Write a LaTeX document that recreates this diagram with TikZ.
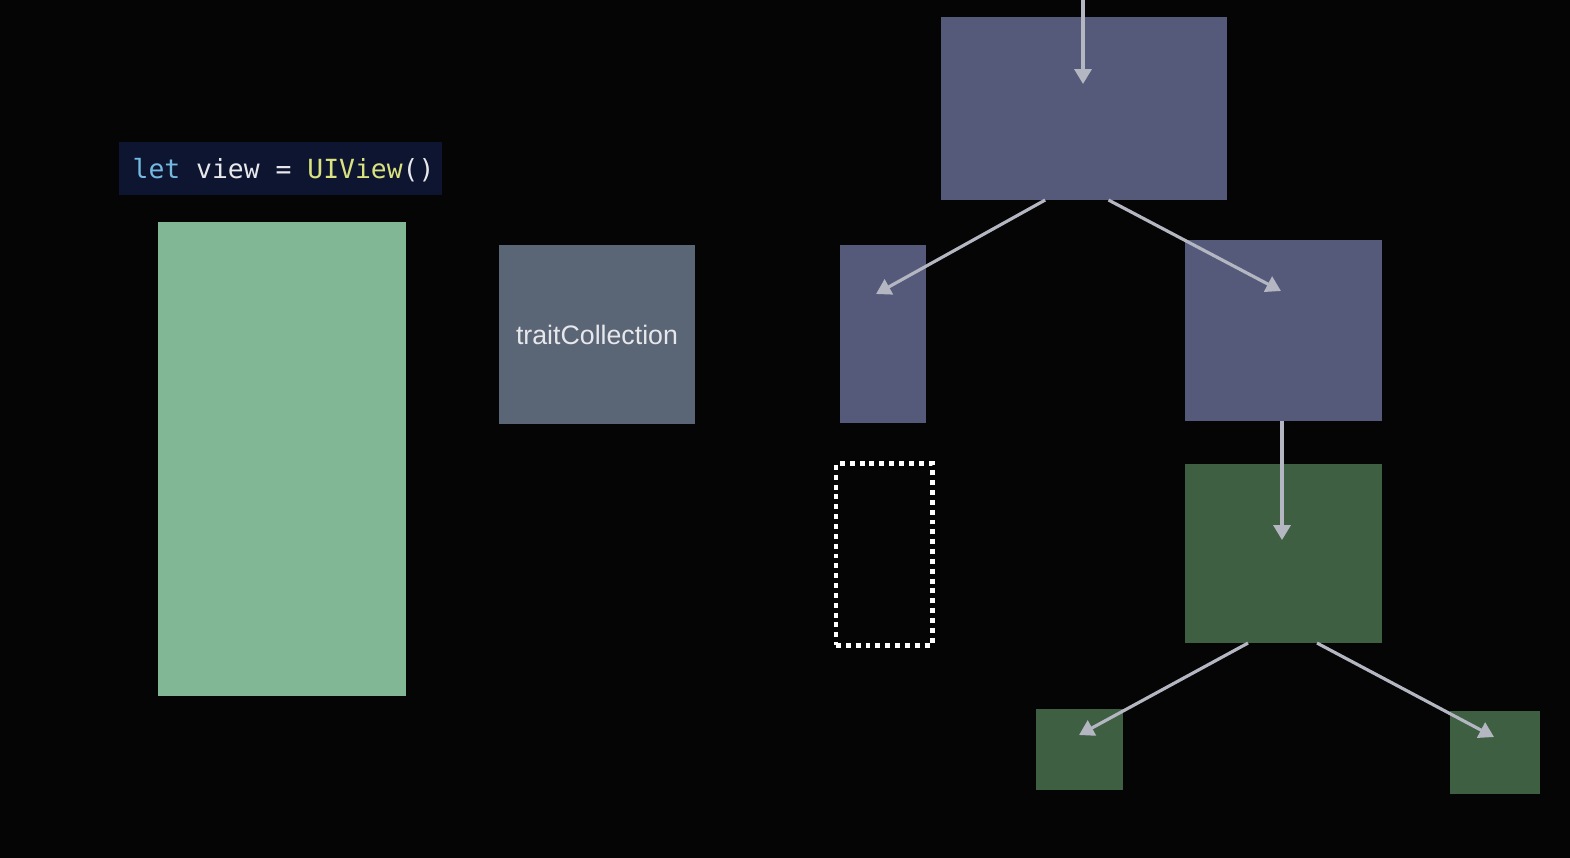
\documentclass[tikz,border=0pt]{standalone}
\usepackage{fontspec}
\setmainfont{Liberation Sans}
\setmonofont{DejaVu Sans Mono}
\usetikzlibrary{arrows.meta,positioning}
\definecolor{stage}{HTML}{050505}
\definecolor{codebg}{HTML}{0D1530}
\definecolor{kwblue}{HTML}{74B9E0}
\definecolor{plain}{HTML}{E8E8EC}
\definecolor{typeyel}{HTML}{D9E27F}
\definecolor{mint}{HTML}{82B796}
\definecolor{slate}{HTML}{5A6576}
\definecolor{lavender}{HTML}{555A7B}
\definecolor{forest}{HTML}{3E5F42}
\definecolor{wire}{HTML}{B4B6C2}
\tikzset{
  block/.style={inner sep=0pt,outer sep=0pt,draw=none},
  viewbox/.style={block,fill=lavender},
  layerbox/.style={block,fill=forest},
  wirearrow/.style={-{Triangle[length=4.2pt,width=4.8pt]},line width=0.9pt,draw=wire,fill=wire},
  ghost/.style={block,draw=white,line width=1.4pt,dash pattern=on 1.4pt off 1.4pt}
}
\begin{document}
\begin{tikzpicture}[x=0.01cm,y=-0.01cm]
  \fill[stage] (0,0) rectangle (1570,858);
  \useasboundingbox (0,0) rectangle (1570,858);

  % code line
  \node[block,fill=codebg,minimum width=3.23cm,minimum height=0.53cm] (code) at (280.5,168.5) {};
  \node[font=\ttfamily\fontsize{7.5}{9}\selectfont,anchor=west,inner sep=0pt] (codetxt) at (132,170)
    {\textcolor{kwblue}{let}\textcolor{plain}{\ view\ =\ }\textcolor{typeyel}{UIView}\textcolor{plain}{()}};

  % the view itself
  \node[block,fill=mint,minimum width=2.48cm,minimum height=4.74cm] (view) at (282,459) {};

  % trait collection
  \node[block,fill=slate,minimum width=1.96cm,minimum height=1.79cm,
        font=\fontsize{7.6}{9}\selectfont,text=plain] (traits) at (597,334.5) {traitCollection};

  % hierarchy
  \node[viewbox,minimum width=2.86cm,minimum height=1.83cm] (window) at (1084,108.5) {};
  \node[viewbox,minimum width=0.86cm,minimum height=1.78cm] (leftview) at (883,334) {};
  \node[viewbox,minimum width=1.97cm,minimum height=1.81cm] (rightview) at (1283.5,330.5) {};
  \node[ghost,minimum width=0.96cm,minimum height=1.81cm] (newview) at (884,554.5) {};
  \node[layerbox,minimum width=1.97cm,minimum height=1.79cm] (parent) at (1283.5,553.5) {};
  \node[layerbox,minimum width=0.87cm,minimum height=0.81cm] (childa) at (1079.5,749.5) {};
  \node[layerbox,minimum width=0.90cm,minimum height=0.83cm] (childb) at (1495,752.5) {};

  \coordinate (feed) at (1083,0);
  \coordinate (windowtip) at (1083,84);
  \coordinate (lefttip) at (876,294);
  \coordinate (righttip) at (1281,291);
  \coordinate (parenttip) at (1282,540);
  \coordinate (childatip) at (1079,735);
  \coordinate (childbtip) at (1494,737);

  \draw[wirearrow] (feed) -- (windowtip);
  \draw[wirearrow] (window.247) -- (lefttip);
  \draw[wirearrow] (window.285) -- (righttip);
  \draw[wirearrow] (rightview.south -| parenttip) -- (parenttip);
  \draw[wirearrow] (parent.south -| 1248,0) -- (childatip);
  \draw[wirearrow] (parent.south -| 1317,0) -- (childbtip);
\end{tikzpicture}
\end{document}
